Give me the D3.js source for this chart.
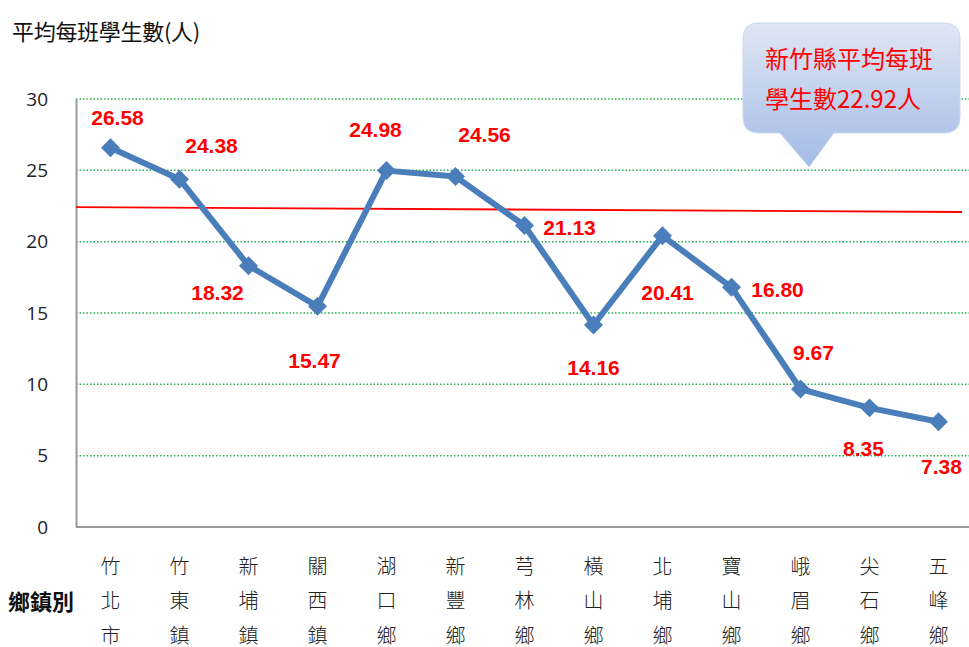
<!DOCTYPE html>
<html><head><meta charset="utf-8">
<script src="https://cdn.jsdelivr.net/npm/d3@7"></script>
<style>body{margin:0;background:#fff}svg{display:block}</style>
</head><body>
<script>
const categories = ["竹北市","竹東鎮","新埔鎮","關西鎮","湖口鄉","新豐鄉","芎林鄉","橫山鄉","北埔鄉","寶山鄉","峨眉鄉","尖石鄉","五峰鄉"];
const values = [26.58,24.38,18.32,15.47,24.98,24.56,21.13,14.16,20.41,16.80,9.67,8.35,7.38];
const yTicks = [0,5,10,15,20,25,30];
const meanLine = [22.42, 22.08]; // drawn red line, left and right ends
const countyAvg = 22.92;
const titleText = "平均每班學生數(人)";
const xAxisTitle = "鄉鎮別";
const calloutLines = ["新竹縣平均每班", "學生數" + countyAvg.toFixed(2) + "人"];
// label offsets (layout only)
const labelOffsets = [[7,-30],[32,-34],[-31,27],[-3,54],[-11,-41],[29,-42],[45,2],[0,43],[5,57],[46,2],[13,-37],[-6,41],[3,45]];

const W = 969, H = 647;
const svg = d3.select("body").append("svg").attr("width", W).attr("height", H);
const x = d3.scaleBand().domain(categories).range([76, 973]);
const y = d3.scaleLinear().domain([0, 30]).range([527, 99]);
const cx = d => x(d) + x.bandwidth() / 2;

const defs = svg.append("defs");
const grad = defs.append("linearGradient").attr("id","cg").attr("x1",0).attr("y1",0).attr("x2",0).attr("y2",1);
grad.append("stop").attr("offset","0%").attr("stop-color","#e0e7f4");
grad.append("stop").attr("offset","100%").attr("stop-color","#a3bbe6");

// gridlines
svg.append("g").selectAll("line").data(yTicks.filter(t => t > 0)).join("line")
  .attr("x1", 76).attr("x2", W).attr("y1", d => y(d)).attr("y2", d => y(d))
  .attr("stroke", "#20b050").attr("stroke-width", 1.5).attr("stroke-dasharray", "1.5,2");

// axes
const yAxis = svg.append("g").attr("transform", "translate(76,0)")
  .call(d3.axisLeft(y).tickValues(yTicks).tickSize(0).tickPadding(28));
yAxis.select(".domain").attr("stroke", "#999").attr("stroke-width", 2);
yAxis.selectAll("text").attr("font-family", "Open Sans, Liberation Sans, sans-serif").attr("font-size", 19).attr("fill", "#222");

svg.append("line").attr("x1", 76).attr("x2", W).attr("y1", y(0)).attr("y2", y(0))
  .attr("stroke", "#999").attr("stroke-width", 2);

// x labels (vertical stacked)
const xl = svg.append("g").selectAll("g").data(categories).join("g");
xl.each(function(d) {
  const g = d3.select(this);
  Array.from(d).forEach((ch, i) => {
    g.append("text").attr("x", cx(d)).attr("y", 565 + i * 34.5)
      .attr("text-anchor", "middle").attr("dominant-baseline", "central")
      .attr("font-family", "Noto Sans CJK TC").attr("font-weight", 300)
      .attr("font-size", 20).attr("fill", "#222").text(ch);
  });
});
svg.append("text").attr("x", 8).attr("y", 600).attr("dominant-baseline", "central")
  .attr("font-family", "Noto Sans CJK TC").attr("font-weight", 700).attr("font-size", 22)
  .attr("fill", "#111").text(xAxisTitle);

// title
svg.append("text").attr("x", 12).attr("y", 30).attr("dominant-baseline", "central")
  .attr("font-family", "Noto Sans CJK TC").attr("font-weight", 400).attr("font-size", 22)
  .attr("letter-spacing", -0.3).attr("fill", "#111").text(titleText);

// mean line
svg.append("line").attr("x1", 76).attr("x2", 962)
  .attr("y1", y(meanLine[0])).attr("y2", y(meanLine[1]))
  .attr("stroke", "#ff0000").attr("stroke-width", 1.8);

// series line
const pts = categories.map((c, i) => [cx(c), y(values[i])]);
svg.append("path").attr("d", d3.line()(pts)).attr("fill", "none")
  .attr("stroke", "#4a7ebb").attr("stroke-width", 6).attr("stroke-linejoin", "round");

svg.append("g").selectAll("path").data(pts).join("path")
  .attr("transform", d => `translate(${d[0]},${d[1]})`)
  .attr("d", d3.symbol().type(d3.symbolDiamond2).size(230))
  .attr("fill", "#4a7ebb");

// data labels
svg.append("g").selectAll("text").data(values).join("text")
  .attr("x", (d, i) => pts[i][0] + labelOffsets[i][0])
  .attr("y", (d, i) => pts[i][1] + labelOffsets[i][1])
  .attr("text-anchor", "middle").attr("dominant-baseline", "central")
  .attr("font-family", "Liberation Sans, Arial, sans-serif").attr("font-weight", 700)
  .attr("font-size", 21).attr("fill", "#ff0000")
  .text(d => d.toFixed(2));

// callout
const bx = 743, by = 23, bw = 217, bh = 110, r = 16;
const tipX = 809, tipY = 167, baseL = 780, baseR = 834;
const p = d3.path();
p.moveTo(bx + r, by);
p.lineTo(bx + bw - r, by); p.quadraticCurveTo(bx + bw, by, bx + bw, by + r);
p.lineTo(bx + bw, by + bh - r); p.quadraticCurveTo(bx + bw, by + bh, bx + bw - r, by + bh);
p.lineTo(baseR, by + bh); p.lineTo(tipX, tipY); p.lineTo(baseL, by + bh);
p.lineTo(bx + r, by + bh); p.quadraticCurveTo(bx, by + bh, bx, by + bh - r);
p.lineTo(bx, by + r); p.quadraticCurveTo(bx, by, bx + r, by);
p.closePath();
svg.append("path").attr("d", p.toString()).attr("fill", "url(#cg)")
  .attr("stroke", "#c9d6ee").attr("stroke-width", 1);
svg.append("g").selectAll("text").data(calloutLines).join("text")
  .attr("x", 765).attr("y", (d, i) => 57 + i * 40).attr("dominant-baseline", "central")
  .attr("font-family", "Noto Sans CJK TC").attr("font-weight", 400).attr("font-size", 24)
  .attr("fill", "#ff0000").text(d => d);
</script>
</body></html>
